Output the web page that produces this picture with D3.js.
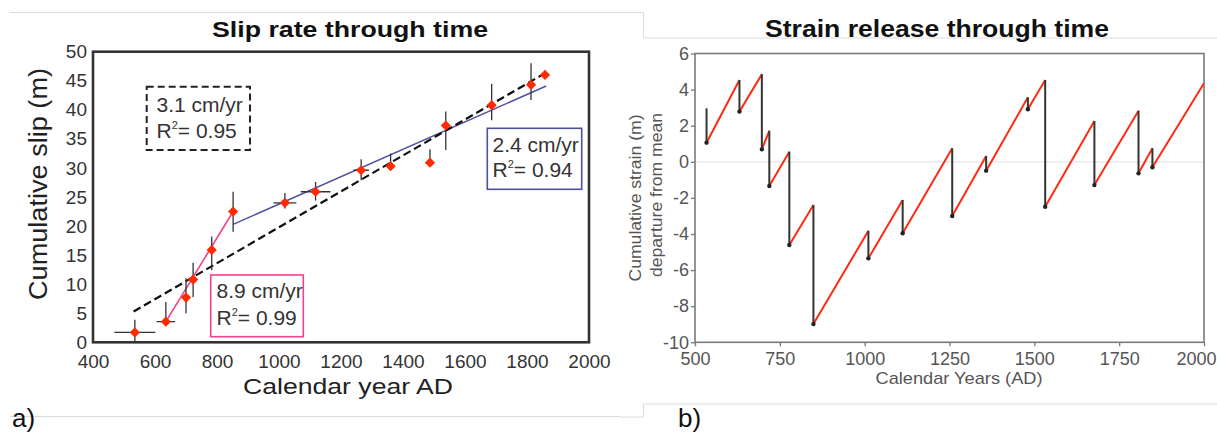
<!DOCTYPE html>
<html><head><meta charset="utf-8">
<script src="https://cdn.jsdelivr.net/npm/d3@7"></script>
<style>
html,body{margin:0;padding:0;background:#fff;}
svg{display:block;font-family:"Liberation Sans",Arial,Helvetica,sans-serif;}
</style></head>
<body>
<svg id="chart" width="1217" height="433"></svg>
<script>
// ---------- Panel a: slip rate data ----------
const slipYears   = [535, 635, 700, 723, 783, 852, 1019, 1118, 1265, 1360, 1487, 1538, 1686, 1813, 1858];
const slipValues  = [1.7, 3.55, 7.7, 10.8, 15.9, 22.5, 24.0, 25.9, 29.6, 30.3, 30.9, 37.3, 40.8, 44.3, 46.0];
const yearErr     = [66, 30, 0, 0, 8, 5, 37, 48, 25, 0, 0, 0, 0, 0, 0];
const slipErrUp   = [2.2, 3.4, 3.3, 2.9, 2.3, 3.4, 1.7, 1.7, 1.9, 2.2, 2.3, 2.4, 3.7, 3.7, 0];
const slipErrDown = [1.7, 0.5, 2.7, 3.0, 3.5, 3.5, 1.0, 1.5, 1.7, 0.3, 0.5, 4.2, 2.6, 2.6, 0];
const overallFit  = [[531, 5.3], [1858, 46.3]];
const earlyFit    = [[635, 3.55], [852, 22.5]];
const lateFit     = [[852, 20.3], [1862, 44.1]];
const slipXTicks  = [400, 600, 800, 1000, 1200, 1400, 1600, 1800, 2000];
const slipYTicks  = [0, 5, 10, 15, 20, 25, 30, 35, 40, 45, 50];
const overallLabel = ["3.1 cm/yr", "0.95"];
const earlyLabel   = ["8.9 cm/yr", "0.99"];
const lateLabel    = ["2.4 cm/yr", "0.94"];

// ---------- Panel b: strain release data ----------
const eventYears = [534, 631, 697, 719, 778, 849, 1011, 1112, 1258, 1358, 1481, 1532, 1677, 1807, 1848];
const preEvent   = [2.96, 4.53, 4.85, 1.72, 0.56, -2.39, -3.82, -2.12, 0.75, 0.32, 3.57, 4.53, 2.26, 2.83, 0.75];
const postEvent  = [1.06, 2.78, 0.69, -1.34, -4.61, -8.99, -5.35, -3.96, -3.00, -0.49, 2.91, -2.49, -1.29, -0.64, -0.30];
const endYear = 2000, endValue = 4.35;
const strainXTicks = [500, 750, 1000, 1250, 1500, 1750, 2000];
const strainYTicks = [-10, -8, -6, -4, -2, 0, 2, 4, 6];

const svg = d3.select("#chart");
const deco = "#dcdcdc";
const fmt = d => String(d);   // plain hyphen-minus like the reference

// ===================== PANEL A =====================
const A = {l: 93, r: 589, t: 51.7, b: 342.3};
const xA = d3.scaleLinear().domain([400, 2000]).range([A.l, A.r]);
const yA = d3.scaleLinear().domain([0, 50]).range([A.b, A.t]);
const gA = svg.append("g");

gA.append("line").attr("x1", 10).attr("x2", 620).attr("y1", 12.5).attr("y2", 12.5).attr("stroke", deco);
gA.append("line").attr("x1", 10).attr("x2", 620).attr("y1", 416.5).attr("y2", 416.5).attr("stroke", deco);

gA.append("text").attr("x", 350).attr("y", 37).attr("text-anchor", "middle")
  .attr("font-size", 22).attr("font-weight", "bold").attr("fill", "#111")
  .attr("textLength", 276).attr("lengthAdjust", "spacingAndGlyphs")
  .text("Slip rate through time");

gA.append("defs").append("clipPath").attr("id", "clipA")
  .append("rect").attr("x", A.l).attr("y", A.t).attr("width", A.r - A.l).attr("height", A.b - A.t);

const axA_x = gA.append("g").attr("transform", `translate(0,${A.b})`)
  .call(d3.axisBottom(xA).tickValues(slipXTicks).tickSize(0).tickPadding(12).tickFormat(fmt));
axA_x.select(".domain").remove();
axA_x.selectAll("text").attr("font-size", 19).attr("fill", "#333").attr("font-family", null);
const axA_y = gA.append("g").attr("transform", `translate(${A.l},0)`)
  .call(d3.axisLeft(yA).tickValues(slipYTicks).tickSize(0).tickPadding(6).tickFormat(fmt));
axA_y.select(".domain").remove();
axA_y.selectAll("text").attr("font-size", 19).attr("fill", "#333").attr("font-family", null);

gA.append("text").attr("x", 348).attr("y", 394).attr("text-anchor", "middle")
  .attr("font-size", 22).attr("fill", "#222")
  .attr("textLength", 210).attr("lengthAdjust", "spacingAndGlyphs")
  .text("Calendar year AD");
gA.append("text").attr("transform", "translate(47,184) rotate(-90)").attr("text-anchor", "middle")
  .attr("font-size", 25).attr("fill", "#222")
  .attr("textLength", 232).attr("lengthAdjust", "spacingAndGlyphs")
  .text("Cumulative slip (m)");
gA.append("text").attr("x", 12).attr("y", 427).attr("font-size", 26).attr("fill", "#111").text("a)");

const plotA = gA.append("g").attr("clip-path", "url(#clipA)");
const line = d3.line().x(d => xA(d[0])).y(d => yA(d[1]));

plotA.append("path").datum(lateFit).attr("d", line).attr("fill", "none").attr("stroke", "#4f4f9f").attr("stroke-width", 1.5);
plotA.append("path").datum(overallFit).attr("d", line).attr("fill", "none").attr("stroke", "#111").attr("stroke-width", 2.2).attr("stroke-dasharray", "8,4");
plotA.append("path").datum(earlyFit).attr("d", line).attr("fill", "none").attr("stroke", "#f0428e").attr("stroke-width", 1.6);

const pts = slipYears.map((yr, i) => ({yr, v: slipValues[i], ex: yearErr[i], up: slipErrUp[i], dn: slipErrDown[i]}));
plotA.selectAll(".ev").data(pts.filter(d => d.up + d.dn > 0)).enter().append("line")
  .attr("x1", d => xA(d.yr)).attr("x2", d => xA(d.yr))
  .attr("y1", d => yA(d.v + d.up)).attr("y2", d => yA(d.v - d.dn))
  .attr("stroke", "#333").attr("stroke-width", 1.3);
plotA.selectAll(".eh").data(pts.filter(d => d.ex > 0)).enter().append("line")
  .attr("x1", d => xA(d.yr - d.ex)).attr("x2", d => xA(d.yr + d.ex))
  .attr("y1", d => yA(d.v)).attr("y2", d => yA(d.v))
  .attr("stroke", "#333").attr("stroke-width", 1.3);

const diamond = d3.symbol().type(d3.symbolSquare).size(52);
plotA.selectAll(".pt").data(pts).enter().append("path")
  .attr("d", diamond)
  .attr("transform", d => `translate(${xA(d.yr)},${yA(d.v)}) rotate(45)`)
  .attr("fill", "#ff2a00");

gA.append("rect").attr("x", A.l).attr("y", A.t).attr("width", A.r - A.l).attr("height", A.b - A.t)
  .attr("fill", "none").attr("stroke", "#333").attr("stroke-width", 2.6);

function annot(g, box, lines, stroke, dash, tx, ty1, ty2) {
  g.append("rect").attr("x", box[0]).attr("y", box[1]).attr("width", box[2] - box[0]).attr("height", box[3] - box[1])
    .attr("fill", "#fff").attr("stroke", stroke).attr("stroke-width", dash ? 2 : 1.6)
    .attr("stroke-dasharray", dash ? "7,4" : null);
  g.append("text").attr("x", tx).attr("y", ty1).attr("font-size", 21).attr("fill", "#333").text(lines[0]);
  const t = g.append("text").attr("x", tx).attr("y", ty2).attr("font-size", 21).attr("fill", "#333");
  t.append("tspan").text("R");
  t.append("tspan").attr("font-size", 11).attr("dy", -9).text("2");
  t.append("tspan").attr("dy", 9).text("= " + lines[1]);
}
annot(gA, [146.7, 86.7, 250, 150], overallLabel, "#222", true, 156.5, 111.7, 138.3);
annot(gA, [210.7, 275, 303.3, 336.7], earlyLabel, "#f0428e", false, 216.5, 298.3, 325);
annot(gA, [487.3, 128.3, 581.7, 189.3], lateLabel, "#4f4f9f", false, 492.5, 151.7, 177.3);

// ===================== PANEL B =====================
const B = {l: 695, r: 1204, t: 53.5, b: 342.3};
const xB = d3.scaleLinear().domain([500, 2000]).range([B.l, B.r]);
const yB = d3.scaleLinear().domain([-10, 6]).range([B.b, B.t]);
const gB = svg.append("g");

gB.append("path").attr("d", "M620,12.5H643.5V38H1217").attr("fill", "none").attr("stroke", deco);
gB.append("path").attr("d", "M1217,404H643.5V417H620").attr("fill", "none").attr("stroke", deco);

gB.append("text").attr("x", 937).attr("y", 37).attr("text-anchor", "middle")
  .attr("font-size", 23).attr("font-weight", "bold").attr("fill", "#111")
  .attr("textLength", 344).attr("lengthAdjust", "spacingAndGlyphs")
  .text("Strain release through time");

gB.append("line").attr("x1", B.l).attr("x2", B.r).attr("y1", yB(0)).attr("y2", yB(0))
  .attr("stroke", "#e6e6e6").attr("stroke-width", 1.2);

const axB_x = gB.append("g").attr("transform", `translate(0,${B.b})`)
  .call(d3.axisBottom(xB).tickValues(strainXTicks).tickSize(4).tickPadding(6).tickFormat(fmt));
axB_x.select(".domain").remove();
axB_x.selectAll("line").attr("stroke", "#777").attr("stroke-width", 1.3);
axB_x.selectAll("text").attr("font-size", 18).attr("fill", "#555").attr("font-family", null);
// last label is pulled inside the figure edge, as in the reference
axB_x.selectAll(".tick").filter(d => d === 2000).select("text")
  .attr("text-anchor", "end").attr("x", 1216 - xB(2000));
const axB_y = gB.append("g").attr("transform", `translate(${B.l},0)`)
  .call(d3.axisLeft(yB).tickValues(strainYTicks).tickSize(4).tickPadding(2).tickFormat(fmt));
axB_y.select(".domain").remove();
axB_y.selectAll("line").attr("stroke", "#777").attr("stroke-width", 1.3);
axB_y.selectAll("text").attr("font-size", 18).attr("fill", "#555").attr("font-family", null);

gB.append("rect").attr("x", B.l).attr("y", B.t).attr("width", B.r - B.l).attr("height", B.b - B.t)
  .attr("fill", "none").attr("stroke", "#7a7a7a").attr("stroke-width", 1.6);

gB.append("text").attr("x", 959).attr("y", 384).attr("text-anchor", "middle")
  .attr("font-size", 17).attr("fill", "#555")
  .attr("textLength", 167).attr("lengthAdjust", "spacingAndGlyphs")
  .text("Calendar Years (AD)");
gB.append("text").attr("transform", "translate(641,198) rotate(-90)").attr("text-anchor", "middle")
  .attr("font-size", 17).attr("fill", "#555")
  .attr("textLength", 167).attr("lengthAdjust", "spacingAndGlyphs")
  .text("Cumulative strain (m)");
gB.append("text").attr("transform", "translate(662,195) rotate(-90)").attr("text-anchor", "middle")
  .attr("font-size", 17).attr("fill", "#555")
  .attr("textLength", 164).attr("lengthAdjust", "spacingAndGlyphs")
  .text("departure from mean");
gB.append("text").attr("x", 678).attr("y", 427).attr("font-size", 26).attr("fill", "#111").text("b)");

const rises = [];
for (let i = 0; i < eventYears.length; i++) {
  const nextYear = i + 1 < eventYears.length ? eventYears[i + 1] : endYear;
  const nextVal = i + 1 < eventYears.length ? preEvent[i + 1] : endValue;
  rises.push([[eventYears[i], postEvent[i]], [nextYear, nextVal]]);
}
const lineB = d3.line().x(d => xB(d[0])).y(d => yB(d[1]));
gB.selectAll(".rise").data(rises).enter().append("path")
  .attr("d", lineB).attr("fill", "none").attr("stroke", "#ff2a10").attr("stroke-width", 2);
const drops = eventYears.map((yr, i) => ({yr, top: preEvent[i], bot: postEvent[i]}));
gB.selectAll(".drop").data(drops).enter().append("line")
  .attr("x1", d => xB(d.yr)).attr("x2", d => xB(d.yr))
  .attr("y1", d => yB(d.top)).attr("y2", d => yB(d.bot))
  .attr("stroke", "#333").attr("stroke-width", 2);
gB.selectAll(".dot").data(drops).enter().append("circle")
  .attr("cx", d => xB(d.yr)).attr("cy", d => yB(d.bot)).attr("r", 2.2).attr("fill", "#222");
</script>
</body></html>
